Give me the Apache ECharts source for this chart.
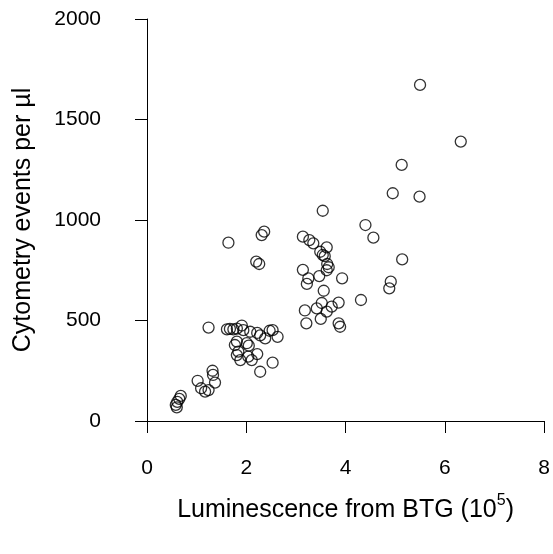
<!DOCTYPE html>
<html>
<head>
<meta charset="utf-8">
<script src="https://cdn.jsdelivr.net/npm/echarts@6/dist/echarts.min.js"></script>
<style>
  html, body { margin: 0; padding: 0; background: #ffffff; }
  #chart { width: 553px; height: 554px; }
</style>
</head>
<body>
<div id="chart"></div>
<script>
// Luminescence (x 10^5) paired with cytometry events per µl, one pair per sample
const luminescence = [
  0.68, 0.65, 0.61, 0.58, 0.60,
  1.02, 1.09, 1.17, 1.24, 1.32, 1.33, 1.37,
  1.24, 1.61, 1.67, 1.74, 1.81, 1.91, 1.94, 2.08, 2.22, 2.28, 2.38, 2.47, 2.53, 2.63,
  1.81, 1.77, 2.01, 2.05, 1.84, 1.81, 1.88, 2.04, 2.11, 2.22, 2.53, 2.28,
  1.64, 2.36, 2.31, 2.20, 2.26,
  3.54, 3.14, 3.27, 3.35, 3.62, 3.49, 3.54, 3.58, 3.63, 3.66, 3.62, 3.14, 3.25, 3.22,
  3.47, 3.93, 3.56, 3.52, 3.42, 3.18, 3.72, 3.86, 3.62, 3.21, 3.50, 3.86, 3.89,
  5.50, 6.32, 5.13, 4.95, 5.49, 4.40, 4.56, 5.14, 4.91, 4.88, 4.31
];
const eventsPerUl = [
  125, 110, 95, 80, 68,
  200, 163, 146, 154, 250, 229, 191,
  465, 456, 458, 456, 460, 475, 452, 444, 438, 426, 411, 449, 452, 419,
  395, 378, 387, 375, 345, 328, 303, 320, 303, 333, 290, 245,
  887, 942, 925, 793, 781,
  1046, 917, 900, 884, 864, 842, 826, 820, 781, 765, 750, 752, 710, 682,
  721, 710, 648, 587, 560, 550, 569, 589, 544, 486, 508, 486, 469,
  1672, 1390, 1274, 1133, 1116, 975, 912, 804, 693, 660, 602
];
const xTicks = [0, 2, 4, 6, 8];
const yTicks = [0, 500, 1000, 1500, 2000];

const points = luminescence.map((x, i) => [x, eventsPerUl[i]]);

const font = 'Liberation Sans, Arial, Helvetica, sans-serif';
const chart = echarts.init(document.getElementById('chart'), null, { renderer: 'canvas' });

chart.setOption({
  animation: false,
  backgroundColor: '#ffffff',
  grid: { left: 147, right: 8, top: 19, bottom: 133, containLabel: false },
  xAxis: {
    type: 'value',
    min: xTicks[0],
    max: xTicks[xTicks.length - 1],
    interval: xTicks[1] - xTicks[0],
    offset: 13,
    name: '{t|Luminescence from BTG (10}{s|5}{t|)}',
    nameLocation: 'middle',
    nameGap: 59,
    nameTextStyle: {
      rich: {
        t: { fontFamily: font, fontSize: 25, color: '#000', lineHeight: 30, verticalAlign: 'bottom' },
        s: { fontFamily: font, fontSize: 16, color: '#000', lineHeight: 30, verticalAlign: 'top', padding: [0, 0, 13, 0] }
      }
    },
    axisLine: { show: true, lineStyle: { color: '#000', width: 1 } },
    axisTick: { show: true, length: 12, lineStyle: { color: '#000', width: 1 } },
    axisLabel: { color: '#000', fontFamily: font, fontSize: 21, margin: 24, formatter: v => String(v) },
    splitLine: { show: false }
  },
  yAxis: {
    type: 'value',
    min: yTicks[0],
    max: yTicks[yTicks.length - 1],
    interval: yTicks[1] - yTicks[0],
    offset: 29,
    name: 'Cytometry events per µl',
    nameLocation: 'middle',
    nameGap: 82,
    nameTextStyle: { color: '#000', fontFamily: font, fontSize: 25 },
    axisLine: { show: true, lineStyle: { color: '#000', width: 1 } },
    axisTick: { show: true, length: 12, lineStyle: { color: '#000', width: 1 } },
    axisLabel: { color: '#000', fontFamily: font, fontSize: 21, margin: 17, formatter: v => String(v) },
    splitLine: { show: false }
  },
  series: [{
    type: 'scatter',
    data: points,
    symbol: 'circle',
    symbolSize: 11,
    itemStyle: { color: 'rgba(0,0,0,0)', borderColor: '#000', borderWidth: 1.3 }
  }]
});
</script>
</body>
</html>
